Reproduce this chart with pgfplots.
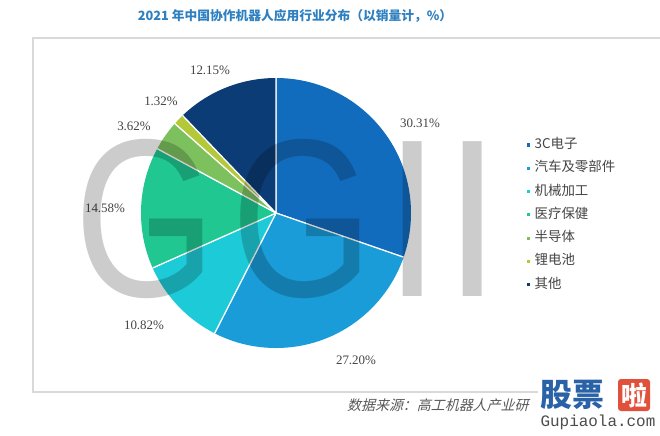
\documentclass[border=0pt]{standalone}
\usepackage{fontspec}
\setmainfont{Liberation Serif}
\newfontfamily\cjk{Noto Sans CJK SC}
\newfontfamily\cjkit{Noto Sans CJK SC}[FakeSlant=0.25]
\newfontfamily\wm{Liberation Sans}
\newfontfamily\monof{Liberation Mono}
\usepackage{pgfplots}
\pgfplotsset{compat=1.18}
\usepgfplotslibrary{polar}

\definecolor{c3c}{HTML}{126CBE}
\definecolor{cauto}{HTML}{1A9CD8}
\definecolor{cmach}{HTML}{1DCBD8}
\definecolor{cmed}{HTML}{20C791}
\definecolor{csemi}{HTML}{7CC15E}
\definecolor{cbatt}{HTML}{B4C93A}
\definecolor{cother}{HTML}{0C3C75}
\definecolor{titleblue}{HTML}{2F80C0}
\definecolor{lbl}{HTML}{444444}
\definecolor{logoblue}{HTML}{2A62A8}
\definecolor{logored}{HTML}{E0503A}

\begin{document}
\begin{tikzpicture}
\path[use as bounding box] (0,0) rectangle (660bp,-436bp);

\begin{scope}[x=1bp,y=-1bp]
\draw[black!15, line width=1.5bp] (680,38) -- (33,38) -- (33,392) -- (680,392);
\node[font=\cjk\bfseries\fontsize{12.8}{12.8}\selectfont, text=titleblue] at (295,16)
  {2021 年中国协作机器人应用行业分布（以销量计，\%）};
\end{scope}

% pie: slice i spans from 90 - 3.6*cum(i-1) to 90 - 3.6*cum(i)
\begin{polaraxis}[
  at={(276bp,-213bp)}, anchor=center,
  width=270bp, height=270bp, scale only axis,
  hide axis, ymin=0, ymax=1,
  legend cell align=left,
  legend image code/.code={\fill[#1] (0bp,-2.2bp) rectangle (4.4bp,2.2bp);},
  legend style={draw=none, fill=none, inner sep=0pt, outer sep=0pt,
    at={(1.426,0.776)}, anchor=north west,
    font=\cjk\fontsize{13.5}{13.5}\selectfont, text=lbl,
    nodes={inner sep=0pt, text height=10bp, text depth=3bp},
    row sep=10.3bp,
    /tikz/every odd column/.style={column sep=3bp}},
]
\addplot[fill=c3c, draw=white, line width=1.2bp] coordinates {(0,0) (90,3) (-19.116,3) (0,0)};
\addlegendentry{3C电子}
\addplot[fill=cauto, draw=white, line width=1.2bp] coordinates {(0,0) (-19.116,3) (-117.036,3) (0,0)};
\addlegendentry{汽车及零部件}
\addplot[fill=cmach, draw=white, line width=1.2bp] coordinates {(0,0) (-117.036,3) (-155.988,3) (0,0)};
\addlegendentry{机械加工}
\addplot[fill=cmed, draw=white, line width=1.2bp] coordinates {(0,0) (-155.988,3) (-208.476,3) (0,0)};
\addlegendentry{医疗保健}
\addplot[fill=csemi, draw=white, line width=1.2bp] coordinates {(0,0) (-208.476,3) (-221.508,3) (0,0)};
\addlegendentry{半导体}
\addplot[fill=cbatt, draw=white, line width=1.2bp] coordinates {(0,0) (-221.508,3) (-226.26,3) (0,0)};
\addlegendentry{锂电池}
\addplot[fill=cother, draw=white, line width=1.2bp] coordinates {(0,0) (-226.26,3) (-270,3) (0,0)};
\addlegendentry{其他}
\end{polaraxis}

\begin{scope}[x=1bp,y=-1bp]
\begin{scope}[font=\fontsize{13}{13}\selectfont, text=lbl]
\node at (420,123) {30.31\%};
\node at (356,360) {27.20\%};
\node at (144,325) {10.82\%};
\node at (105,208) {14.58\%};
\node at (134,126) {3.62\%};
\node at (161,101) {1.32\%};
\node at (210,70) {12.15\%};
\end{scope}
% GGII watermark
\begin{scope}[font=\wm\fontsize{226}{226}\selectfont, text=black, text opacity=0.2]
\node[anchor=base west, inner sep=0, xscale=0.81] at (74,296) {G};
\node[anchor=base west, inner sep=0, xscale=0.81] at (231,296) {G};
\node[anchor=base west, inner sep=0, xscale=0.9] at (384,296) {I};
\node[anchor=base west, inner sep=0, xscale=0.9] at (444,296) {I};
\end{scope}
\node[anchor=west, inner sep=0, font=\cjkit\fontsize{14}{14}\selectfont, text=black!65] at (347,405)
  {数据来源：高工机器人产业研};
% logo
\fill[white] (538,377) rectangle (660,436);
\node[anchor=west, inner sep=0, font=\cjk\bfseries\fontsize{32}{32}\selectfont, text=logoblue] at (540,395) {股票};
\node[fill=logored, rounded corners=3bp, minimum size=32bp, inner sep=0, text=white,
  font=\cjk\bfseries\fontsize{26}{26}\selectfont] at (634,395) {啦};
\node[inner sep=0, font=\monof\fontsize{16}{16}\selectfont, text=black!70] at (598,422) {Gupiaola.com};
\end{scope}
\end{tikzpicture}
\end{document}
